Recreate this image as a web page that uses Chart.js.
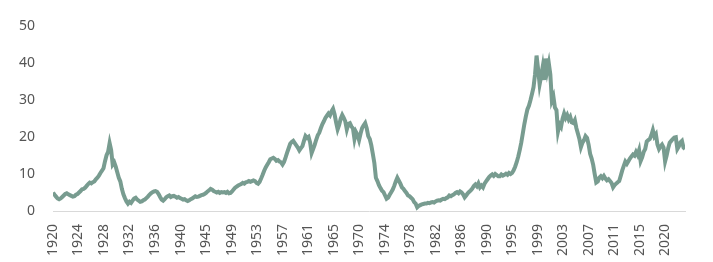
<!DOCTYPE html>
<html>
<head>
<meta charset="utf-8">
<script src="https://cdn.jsdelivr.net/npm/chart.js@4/dist/chart.umd.min.js"></script>
<style>
  html, body { margin: 0; padding: 0; background: #fff; }
  #wrap { width: 713px; height: 262px; }
</style>
</head>
<body>
<div id="wrap"><canvas id="chart"></canvas></div>
<script>
// quarterly readings, first value = Q1 1920
const firstYear = 1920;

const v1920s = [5.0, 4.4, 3.9, 3.4, 3.2, 3.4, 3.8, 4.2, 4.6, 4.8, 4.5, 4.3, 4.1, 3.9, 4.0, 4.4,
  4.6, 5.0, 5.4, 5.9, 6.0, 6.3, 6.8, 7.3, 7.7, 7.5, 7.8, 8.0, 8.6, 9.0, 9.6, 10.3,
  10.9, 11.6, 13.5, 15.1, 16.0, 18.4, 16.5, 12.6];
const v1930s = [13.2, 12.0, 10.5, 9.0, 8.0, 6.0, 4.5, 3.5, 2.6, 2.0, 2.5, 2.2, 2.8, 3.4, 3.6, 3.1,
  2.8, 2.5, 2.6, 2.9, 3.1, 3.5, 3.9, 4.4, 4.8, 5.1, 5.3, 5.4, 5.2, 4.6, 3.8, 3.1,
  2.8, 3.2, 3.7, 4.0, 4.2, 3.8, 4.0, 4.1];
const v1940s = [3.9, 3.6, 3.8, 3.5, 3.3, 3.1, 3.2, 2.9, 2.7, 2.9, 3.2, 3.4, 3.7, 4.0, 3.8, 3.9,
  4.1, 4.3, 4.4, 4.6, 4.9, 5.3, 5.6, 6.0, 5.8, 5.4, 5.2, 5.0, 5.2, 4.9, 5.1, 5.0,
  5.1, 4.9, 5.2, 4.8, 4.9, 5.3, 5.8, 6.3];
const v1950s = [6.6, 6.9, 7.1, 7.3, 7.6, 7.4, 7.8, 7.9, 8.1, 7.9, 8.1, 8.3, 8.1, 7.6, 7.4, 7.9,
  8.8, 9.8, 10.9, 11.8, 12.5, 13.2, 14.0, 14.2, 14.4, 14.1, 13.6, 13.8, 13.4, 13.2, 12.6, 13.3,
  14.5, 15.8, 17.0, 18.2, 18.7, 19.0, 18.4, 17.8];
const v1960s = [17.2, 16.4, 17.0, 17.6, 19.0, 20.3, 19.8, 20.1, 18.6, 15.7, 16.8, 17.9, 19.3, 20.5, 21.2, 22.4,
  23.5, 24.3, 25.2, 25.8, 26.4, 25.9, 27.0, 27.7, 26.2, 24.0, 22.1, 23.3, 25.0, 26.0, 25.2, 24.3,
  22.1, 23.6, 23.8, 22.9, 22.4, 19.5, 21.4, 20.6];
const v1970s = [19.2, 21.0, 22.5, 23.2, 23.8, 22.4, 20.3, 19.5, 17.8, 15.5, 13.0, 9.0, 8.1, 7.0, 6.2, 5.5,
  5.1, 4.2, 3.3, 3.6, 4.4, 5.1, 5.8, 6.8, 8.0, 9.0, 8.2, 7.4, 6.4, 6.0, 5.4, 4.9,
  4.2, 4.0, 3.6, 3.2, 2.4, 2.0, 1.0, 1.4];
const v1980s = [1.6, 1.8, 1.9, 2.0, 2.0, 2.2, 2.1, 2.3, 2.4, 2.3, 2.6, 2.8, 2.9, 2.8, 3.1, 3.3,
  3.2, 3.5, 3.7, 4.2, 4.0, 4.3, 4.5, 4.9, 5.1, 4.8, 5.3, 5.0, 4.5, 3.7, 4.2, 4.8,
  5.2, 5.6, 6.1, 6.8, 7.2, 6.7, 7.5, 6.4];
const v1990s = [6.9, 6.4, 7.4, 8.0, 8.6, 9.2, 9.6, 9.9, 9.5, 10.0, 9.7, 9.4, 9.4, 9.9, 9.6, 9.8,
  10.1, 9.8, 10.3, 10.0, 10.3, 11.0, 12.0, 13.2, 14.7, 16.5, 18.5, 21.0, 23.5, 25.6, 27.5, 28.5,
  30.0, 31.7, 33.5, 37.0, 42.1, 38.5, 34.3, 36.5];
const v2000s = [39.0, 35.5, 41.3, 38.0, 40.0, 37.0, 29.9, 31.0, 28.0, 27.3, 21.6, 23.5, 22.8, 25.0, 26.4, 25.2,
  26.0, 24.8, 25.5, 24.0, 23.8, 24.6, 22.5, 21.0, 19.5, 17.3, 18.5, 19.2, 20.3, 19.8, 18.0, 15.5,
  14.2, 12.5, 10.0, 7.7, 8.0, 9.0, 9.4, 8.9];
const v2010s = [9.5, 8.8, 8.3, 8.6, 8.1, 7.6, 6.4, 7.0, 7.4, 7.8, 8.1, 9.5, 11.0, 12.2, 13.4, 12.8,
  13.5, 14.2, 14.8, 15.3, 15.0, 16.0, 15.2, 16.5, 13.5, 14.5, 16.0, 16.8, 18.8, 19.2, 19.5, 20.5,
  21.9, 20.2, 20.8, 18.0, 16.8, 17.5, 18.0, 17.2];
const v2020s = [13.4, 15.0, 17.0, 18.5, 19.0, 19.5, 19.9, 20.0, 16.8, 17.5, 18.6, 19.0, 17.2, 16.8];

const seriesValues = [].concat(v1920s, v1930s, v1940s, v1950s, v1960s, v1970s,
  v1980s, v1990s, v2000s, v2010s, v2020s);

// axis labels, one every 50 months from Jan 1920
const tickLabels = ["1920", "1924", "1928", "1932", "1936", "1940", "1945", "1949", "1953",
  "1957", "1961", "1965", "1970", "1974", "1978", "1982", "1986", "1990", "1995", "1999",
  "2003", "2007", "2011", "2015", "2020"];
const tickStepMonths = 50;

const points = seriesValues.map((v, i) => ({ x: firstYear + i / 4, y: v }));
const lastX = points[points.length - 1].x;

const fontFamily = "'Noto Sans', sans-serif";

new Chart(document.getElementById("chart"), {
  type: "line",
  data: {
    datasets: [{
      data: points,
      borderColor: "#789c90",
      borderWidth: 4,
      pointRadius: 0,
      tension: 0,
      fill: false,
    }],
  },
  options: {
    responsive: true,
    maintainAspectRatio: false,
    animation: false,
    layout: { padding: { top: 20, right: 28, left: 0, bottom: 0 } },
    plugins: { legend: { display: false }, tooltip: { enabled: false } },
    scales: {
      x: {
        type: "linear",
        min: firstYear,
        max: lastX,
        afterBuildTicks: (s) => {
          s.ticks = tickLabels.map((t, i) => ({ value: firstYear + i * tickStepMonths / 12 }));
        },
        afterFit: (s) => { s.height = 51; },
        ticks: {
          autoSkip: false,
          minRotation: 90,
          maxRotation: 90,
          padding: 13,
          color: "#555555",
          font: { family: fontFamily, size: 14 },
          callback: (v, i) => tickLabels[i],
        },
        grid: { display: false, drawTicks: false },
        border: { display: true, color: "#d9d9d9", width: 1 },
      },
      y: {
        min: 0,
        max: 50,
        afterFit: (s) => { s.width = 53; },
        ticks: { stepSize: 10, padding: 18, color: "#555555", font: { family: fontFamily, size: 14 } },
        grid: { display: false, drawTicks: false },
        border: { display: false },
      },
    },
  },
});
</script>
</body>
</html>
